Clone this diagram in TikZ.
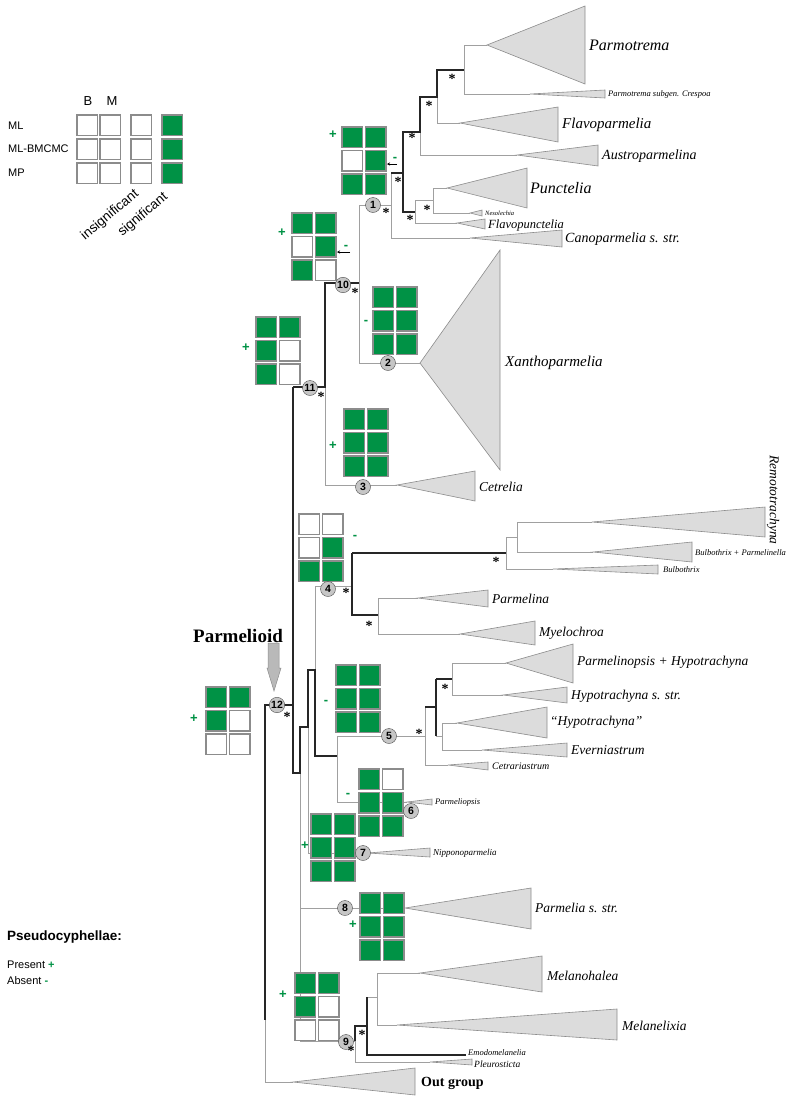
\documentclass[tikz,border=0pt]{standalone}
\usepackage{fontspec}
\setmainfont{Liberation Serif}
\setsansfont{Liberation Sans}
\usetikzlibrary{arrows.meta}
\definecolor{pgreen}{RGB}{0,146,69}
\definecolor{lgray}{RGB}{160,160,160}
\definecolor{tgray}{RGB}{220,220,220}
\definecolor{bgray}{RGB}{140,140,140}
\newcommand\pfs[1]{\fontsize{#1}{#1}\selectfont}
\newcommand\pcell[3]{\filldraw[cellbox,fill=#3] (#1,#2) rectangle ++(20.5,20.5);}
\newcommand\pgrid[8]{\pcell{#1}{#2}{#3}\pcell{#1+23.5}{#2}{#4}\pcell{#1}{#2+23.5}{#5}\pcell{#1+23.5}{#2+23.5}{#6}\pcell{#1}{#2+47}{#7}\pcell{#1+23.5}{#2+47}{#8}}
\newcommand\pclade[5]{\filldraw[tri] (#1,#2) -- (#3,#4) -- (#3,#5) -- cycle;}
\begin{document}
\begin{tikzpicture}[x=1pt,y=-1pt,
 br/.style={draw=lgray,line width=0.8pt},
 bb/.style={draw=black!85,line width=1.1pt},
 tri/.style={draw=bgray,fill=tgray,line width=0.6pt},
 cellbox/.style={draw=bgray,line width=1.2pt},
 nc/.style={circle,draw=black!70,fill=gray!45,inner sep=0.6pt,minimum size=15pt,font=\sffamily\bfseries\pfs{10.5}},
 star/.style={font=\bfseries\pfs{14},inner sep=0},
 lab/.style={anchor=west,inner sep=1pt,font=\itshape\pfs{13.5}},
 sign/.style={text=pgreen,font=\sffamily\bfseries\pfs{13},inner sep=0},
 leg/.style={anchor=west,inner sep=0,font=\sffamily\pfs{11}},
 tip/.style={-{Stealth[length=3pt,width=3pt]},line width=0.6pt,black},
]
\useasboundingbox (0,0) rectangle (796,1103);
\fill[white] (0,0) rectangle (796,1103);

% ---------- legend ----------
\node[font=\sffamily\pfs{13}] (lB) at (88,101) {B};
\node[font=\sffamily\pfs{13}] (lM) at (112,101) {M};
\node[leg] (lML) at (8,126) {ML};
\node[leg] (lMLB) at (8,149) {ML-BMCMC};
\node[leg] (lMP) at (8,173) {MP};
\foreach \yy in {115,139,163}{
 \pcell{77}{\yy}{white}\pcell{100}{\yy}{white}\pcell{131}{\yy}{white}\pcell{162}{\yy}{pgreen}}
\node[rotate=40,inner sep=0,font=\sffamily\pfs{13.5}] (lins) at (110,215) {insignificant};
\node[rotate=40,inner sep=0,font=\sffamily\pfs{13.5}] (lsig) at (143,215) {significant};

\node[anchor=west,inner sep=0,font=\sffamily\bfseries\pfs{13.5}] (lps) at (7,937) {Pseudocyphellae:};
\node[leg] (lpre) at (7,965) {Present \textcolor{pgreen}{\bfseries +}};
\node[leg] (labs) at (7,981) {Absent \textcolor{pgreen}{\bfseries -}};

% ---------- gray branches ----------
\draw[br] (464,45)--(487,45);
\draw[br] (464,45)--(464,94)--(530,94);
\draw[br] (437,97)--(437,123)--(460,123);
\draw[br] (420,132)--(420,155)--(517,155);
\draw[br] (415,200)--(415,223)--(457,223);
\draw[br] (415,200)--(433,200);
\draw[br] (433,188)--(447,188);
\draw[br] (433,188)--(433,213)--(470,213);
\draw[br] (391,173)--(391,238)--(470,238);
\draw[br] (359,205)--(391,205);
\draw[br] (359,205)--(359,363)--(420,363);
\draw[br] (325,387)--(325,485)--(397,485);
\draw[br] (265,1020)--(265,1082)--(293,1082);
\draw[br] (300,773)--(300,1041)--(355,1041);
\draw[br] (308,727)--(308,853)--(368,853);
\draw[br] (300,908)--(405,908);
\draw[br] (315,670)--(315,586)--(352,586);
\draw[br] (506,537)--(506,569)--(553,569);
\draw[br] (506,537)--(517,537);
\draw[br] (517,522)--(592,522);
\draw[br] (517,522)--(517,552)--(593,552);
\draw[br] (378,598)--(378,634)--(460,634);
\draw[br] (378,598)--(418,598);
\draw[br] (337,736)--(337,802)--(407,802);
\draw[br] (337,736)--(425,736);
\draw[br] (425,707)--(425,765)--(448,765);
\draw[br] (452,663)--(452,695)--(503,695);
\draw[br] (452,663)--(506,663);
\draw[br] (436,736)--(442,736);
\draw[br] (442,723)--(442,750)--(482,750);
\draw[br] (442,723)--(457,723);
\draw[br] (355,1041)--(355,1062)--(430,1062);
\draw[br] (367,997)--(377,997);
\draw[br] (377,973)--(377,1025)--(397,1025);
\draw[br] (377,973)--(420,973);

% ---------- black branches ----------
\draw[bb] (464,70)--(437,70)--(437,97)--(420,97)--(420,132)--(403,132)--(403,212)--(415,212);
\draw[bb] (391,173)--(403,173);
\draw[bb] (359,283)--(325,283)--(325,387)--(293,387);
\draw[bb] (293,387)--(293,773)--(300,773)--(300,727)--(308,727)--(308,670)--(315,670)--(315,756)--(337,756);
\draw[bb] (293,705)--(265,705)--(265,1020);
\draw[bb] (352,553)--(352,615)--(378,615);
\draw[bb] (352,553)--(506,553);
\draw[bb] (425,707)--(436,707);
\draw[bb] (436,679)--(436,736);
\draw[bb] (436,679)--(452,679);
\draw[bb] (355,1041)--(355,1026)--(367,1026);
\draw[bb] (367,997)--(367,1055)--(466,1055);

% ---------- collapsed clades ----------
\pclade{487}{45}{585}{6}{84}
\pclade{530}{94}{605}{90}{98}
\pclade{460}{123}{558}{107}{142}
\pclade{517}{155}{598}{145}{166}
\pclade{447}{188}{527}{168}{208}
\pclade{470}{213}{482}{210}{216}
\pclade{457}{223}{485}{219}{229}
\pclade{470}{238}{562}{230}{247}
\pclade{420}{363}{500}{250}{470}
\pclade{397}{485}{475}{471}{501}
\pclade{592}{522}{765}{507}{537}
\pclade{593}{552}{692}{542}{562}
\pclade{553}{569}{658}{565}{574}
\pclade{418}{598}{488}{590}{607}
\pclade{460}{634}{535}{621}{645}
\pclade{506}{663}{573}{644}{683}
\pclade{503}{695}{567}{687}{703}
\pclade{457}{723}{547}{707}{738}
\pclade{482}{750}{567}{743}{757}
\pclade{448}{765}{488}{762}{770}
\pclade{407}{802}{432}{799}{805}
\pclade{368}{853}{430}{848}{857}
\pclade{405}{908}{531}{888}{929}
\pclade{420}{973}{542}{956}{992}
\pclade{397}{1025}{617}{1009}{1040}
\pclade{430}{1062}{472}{1059}{1065}
\pclade{293}{1082}{415}{1068}{1095}

% ---------- character grids ----------
\pgrid{342}{127}{pgreen}{pgreen}{white}{pgreen}{pgreen}{pgreen}
\pgrid{292}{213}{pgreen}{pgreen}{white}{pgreen}{pgreen}{white}
\pgrid{256}{317}{pgreen}{pgreen}{pgreen}{white}{pgreen}{white}
\pgrid{373}{287}{pgreen}{pgreen}{pgreen}{pgreen}{pgreen}{pgreen}
\pgrid{344}{409}{pgreen}{pgreen}{pgreen}{pgreen}{pgreen}{pgreen}
\pgrid{299}{514}{white}{white}{white}{pgreen}{pgreen}{pgreen}
\pgrid{336}{665}{pgreen}{pgreen}{pgreen}{pgreen}{pgreen}{pgreen}
\pgrid{206}{687}{pgreen}{pgreen}{pgreen}{white}{white}{white}
\pgrid{359}{769}{pgreen}{white}{pgreen}{pgreen}{pgreen}{pgreen}
\pgrid{311}{814}{pgreen}{pgreen}{pgreen}{pgreen}{pgreen}{pgreen}
\pgrid{360}{893}{pgreen}{pgreen}{pgreen}{pgreen}{pgreen}{pgreen}
\pgrid{295}{973}{pgreen}{pgreen}{pgreen}{white}{white}{white}

% ---------- signs ----------
\node[sign] (s1) at (333,135) {+};
\node[sign] (m1) at (395,159) {-};
\coordinate (a1s) at (397,164); \coordinate (a1e) at (387,164);
\draw[tip] (a1s) -- (a1e);
\node[sign] (s10) at (282,233) {+};
\node[sign] (m10) at (346,247) {-};
\coordinate (a10s) at (350,252); \coordinate (a10e) at (337,252);
\draw[tip] (a10s) -- (a10e);
\node[sign] (s11) at (246,348) {+};
\node[sign] (m2) at (366,322) {-};
\node[sign] (s3) at (333,446) {+};
\node[sign] (m4) at (355,537) {-};
\node[sign] (m5) at (326,702) {-};
\node[sign] (s12) at (194,719) {+};
\node[sign] (m6) at (348,795) {-};
\node[sign] (s7) at (305,846) {+};
\node[sign] (s8) at (353,925) {+};
\node[sign] (s9) at (283,995) {+};

% ---------- node circles ----------
\node[nc] (c1) at (373,205) {1};
\node[nc] (c10) at (343,285) {10};
\node[nc] (c2) at (388,363) {2};
\node[nc] (c11) at (310,388) {11};
\node[nc] (c3) at (363,487) {3};
\node[nc] (c4) at (328,589) {4};
\node[nc] (c12) at (277,705) {12};
\node[nc] (c5) at (389,736) {5};
\node[nc] (c6) at (411,811) {6};
\node[nc] (c7) at (363,853) {7};
\node[nc] (c8) at (345,908) {8};
\node[nc] (c9) at (346,1042) {9};

% ---------- support stars ----------
\foreach \p [count=\i] in {(452,79),(429,106),(412,138),(398,182),(427,210),(410,220),(386,213),(355,293),(321,397),(346,593),(496,562),(369,626),(287,717),(419,734),(445,689),(351,1051),(362,1035)}
  \node[star] (st\i) at \p {*};

% ---------- Parmelioid arrow ----------
\filldraw[draw=bgray,fill=gray!55,line width=0.5pt] (268,643) -- (279,643) -- (279,668) -- (281,668) -- (274,691) -- (267,668) -- (268,668) -- cycle;
\node[font=\bfseries\pfs{19}] (parm) at (238,636) {Parmelioid};

% ---------- labels ----------
\node[lab,font=\itshape\pfs{16}] (t1) at (588,45) {Parmotrema};
\node[lab,font=\itshape\pfs{8.5}] (t2) at (607,94) {Parmotrema subgen. Crespoa};
\node[lab,font=\itshape\pfs{15}] (t3) at (561,125) {Flavoparmelia};
\node[lab,font=\itshape\pfs{14}] (t4) at (601,156) {Austroparmelina};
\node[lab,font=\itshape\pfs{16}] (t5) at (529,188) {Punctelia};
\node[lab,font=\itshape\pfs{6.5}] (t6) at (484,213) {Nesolechia};
\node[lab,font=\itshape\pfs{12.5}] (t7) at (487,225) {Flavopunctelia};
\node[lab,font=\itshape\pfs{14}] (t8) at (564,239) {Canoparmelia s. str.};
\node[lab,font=\itshape\pfs{15}] (t9) at (504,363) {Xanthoparmelia};
\node[lab,font=\itshape\pfs{13.5}] (t10) at (478,487) {Cetrelia};
\node[rotate=-90,inner sep=0,font=\itshape\pfs{13.5}] (t11) at (773,500) {Remototrachyna};
\node[lab,font=\itshape\pfs{8.5}] (t12) at (694,553) {Bulbothrix + Parmelinella};
\node[lab,font=\itshape\pfs{8.5}] (t13) at (662,570) {Bulbothrix};
\node[lab] (t14) at (491,599) {Parmelina};
\node[lab] (t15) at (538,633) {Myelochroa};
\node[lab] (t16) at (576,662) {Parmelinopsis + Hypotrachyna};
\node[lab] (t17) at (570,696) {Hypotrachyna s. str.};
\node[lab] (t18) at (549,722) {“Hypotrachyna”};
\node[lab] (t19) at (570,750) {Everniastrum};
\node[lab,font=\itshape\pfs{10}] (t20) at (491,766) {Cetrariastrum};
\node[lab,font=\itshape\pfs{8.5}] (t21) at (434,802) {Parmeliopsis};
\node[lab,font=\itshape\pfs{9}] (t22) at (432,853) {Nipponoparmelia};
\node[lab] (t23) at (534,908) {Parmelia s. str.};
\node[lab] (t24) at (546,976) {Melanohalea};
\node[lab] (t25) at (621,1026) {Melanelixia};
\node[lab,font=\itshape\pfs{8.5}] (t26) at (467,1053) {Emodomelanelia};
\node[lab,font=\itshape\pfs{9.5}] (t27) at (473,1064) {Pleurosticta};
\node[anchor=west,inner sep=1pt,font=\bfseries\pfs{14}] (t28) at (420,1083) {Out group};
\end{tikzpicture}
\end{document}
